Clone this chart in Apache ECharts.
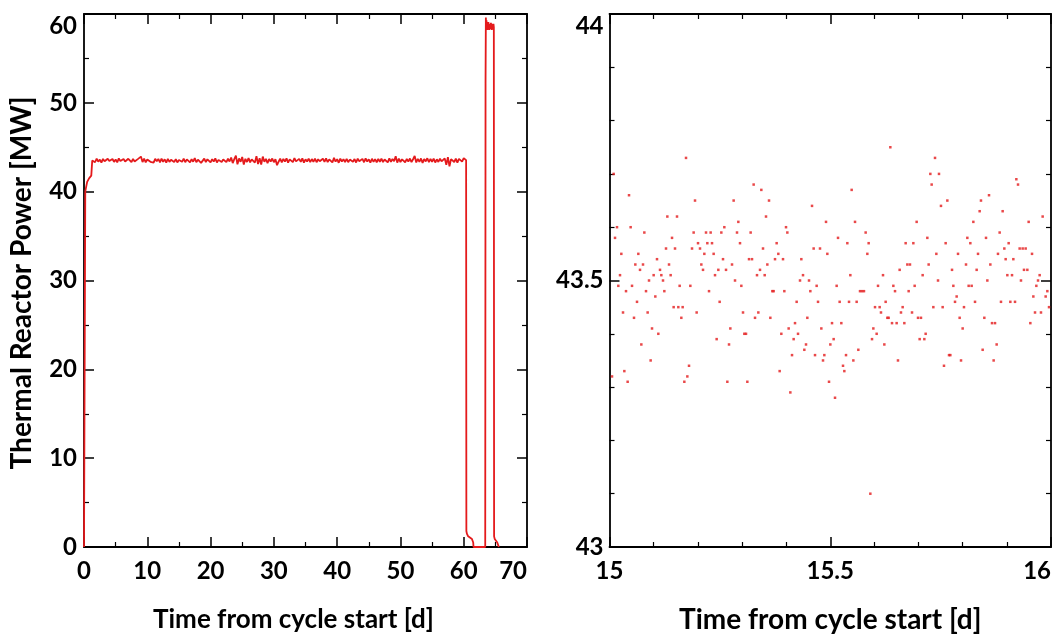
<!DOCTYPE html>
<html><head><meta charset="utf-8">
<script src="https://cdn.jsdelivr.net/npm/echarts@6/dist/echarts.min.js"></script>
<style>html,body{margin:0;padding:0;background:#fff}#c{width:1058px;height:635px}</style>
</head><body><div id="c"></div>
<script>
// ---------- DATA ----------
// Left panel: full cycle (time [d], power [MW])
const leftStart = [[0,0],[0.15,0],[0.2,40.0],[0.3,40.4],[0.5,41.1],[0.8,41.5],[1.15,41.8],[1.3,43.5]];
const plateauT0 = 1.5, plateauDt = 0.25;   // sampling of the steady-power plateau
const plateauP = [
43.66,43.31,43.72,43.38,43.61,43.27,43.69,43.42,43.34,43.71,43.46,43.26,43.68,43.35,43.63,43.30,43.74,43.44,43.33,43.67,
43.40,43.28,43.70,43.57,43.32,43.69,43.39,43.25,43.66,43.45,43.95,43.34,43.71,43.29,43.62,43.73,43.36,43.58,43.27,43.70,
43.43,43.68,43.30,43.72,43.37,43.64,43.26,43.69,43.35,43.60,43.75,43.33,43.67,43.29,43.56,43.70,43.36,43.73,43.31,43.63,
43.69,43.29,43.65,43.38,43.77,43.31,43.60,43.68,43.24,43.42,43.72,43.34,43.64,43.82,43.30,43.66,43.39,43.74,43.28,43.58,
43.70,43.33,43.62,43.78,43.32,43.71,43.40,43.85,43.22,43.66,44.05,43.08,43.74,43.36,43.90,43.05,43.70,43.34,43.78,43.30,
43.64,43.72,43.27,44.00,43.12,43.76,43.06,43.95,43.36,43.70,43.20,43.67,43.40,43.73,43.31,43.65,42.98,43.37,43.72,43.29,
43.68,43.38,43.75,43.26,43.63,43.70,43.33,43.78,43.41,43.30,43.69,43.35,43.74,43.27,43.64,43.39,43.72,43.32,43.67,43.36,
43.73,43.31,43.65,43.42,43.27,43.71,43.35,43.75,43.33,43.63,43.69,43.29,43.80,43.38,43.66,43.25,43.72,43.40,43.64,43.34,
43.70,43.32,43.61,43.76,43.36,43.67,43.28,43.72,43.43,43.34,43.69,43.31,43.74,43.39,43.64,43.26,43.71,43.35,43.66,43.30,
43.68,43.37,43.73,43.33,43.62,43.70,43.29,43.75,43.36,43.67,43.42,43.98,43.27,43.71,43.34,43.64,43.78,43.31,43.69,43.38,
43.73,43.33,43.65,44.02,43.29,43.70,43.36,43.74,43.24,43.67,43.41,43.76,43.32,43.69,43.37,43.72,43.28,43.64,43.35,43.71,
43.42,43.31,43.75,43.02,43.88,42.85,43.66,43.80,43.34,43.72,43.27,43.69,43.74,43.38,43.78,43.62
];
const leftEnd = [[60.38,43.55],[60.42,1.8],[60.5,1.5],[60.7,1.2],[61.0,1.0],[61.3,0.9],[61.5,0.5],[61.55,0],
[63.4,0],[63.45,52.2],[63.5,59.6],[63.55,58.4],[63.6,59.3],[63.65,58.3],[63.7,59.0],[63.75,58.2],[63.8,58.9],
[63.85,58.3],[63.9,59.1],[63.95,58.4],[64.0,58.8],[64.05,58.2],[64.1,58.9],[64.15,58.3],[64.2,58.9],[64.25,58.4],
[64.3,59.0],[64.35,58.3],[64.4,58.8],[64.45,58.2],[64.5,58.9],[64.55,58.4],[64.6,58.8],[64.65,58.3],[64.7,58.9],
[64.76,58.5],[64.8,1.2],[64.9,0.9],[65.1,0.7],[65.3,0.5],[65.5,0.3],[65.55,0]];

// Right panel: day 15 to 16 detail (time [d], power [MW])
const zoomPoints = [
[15.1733,43.73],[15.0094,43.70],[15.0442,43.66],[15.1937,43.65],[15.1310,43.62],[15.1529,43.62],[15.0170,43.60],[15.0479,43.60],
[15.0789,43.59],[15.1906,43.59],[15.2186,43.59],[15.2291,43.59],[15.0125,43.58],[15.1416,43.58],[15.2005,43.57],[15.2216,43.57],
[15.2322,43.57],[15.1280,43.56],[15.1484,43.56],[15.1869,43.56],[15.2050,43.56],[15.0268,43.55],[15.0653,43.55],[15.2148,43.55],
[15.2359,43.55],[15.1076,43.54],[15.0585,43.53],[15.0759,43.53],[15.1348,43.53],[15.2080,43.53],[15.0691,43.52],[15.1144,43.52],
[15.2118,43.52],[15.2465,43.52],[15.0238,43.51],[15.1000,43.51],[15.1174,43.51],[15.1385,43.51],[15.2390,43.51],[15.0895,43.50],
[15.1212,43.50],[15.0200,43.49],[15.0510,43.49],[15.1589,43.49],[15.1831,43.49],[15.0374,43.48],[15.0827,43.48],[15.1242,43.48],
[15.2254,43.48],[15.1038,43.47],[15.0623,43.46],[15.2495,43.46],[15.1453,43.45],[15.1559,43.45],[15.1657,43.45],[15.0306,43.44],
[15.0864,43.44],[15.1974,43.44],[15.0555,43.43],[15.1627,43.43],[15.0963,43.41],[15.1106,43.40],[15.2427,43.39],[15.0721,43.38],
[15.0932,43.35],[15.1801,43.34],[15.0336,43.33],[15.0057,43.32],[15.1763,43.32],[15.0411,43.31],[15.1695,43.31],
[15.3265,43.68],[15.3439,43.67],[15.2812,43.65],[15.3613,43.65],[15.4587,43.64],[15.3545,43.62],[15.2918,43.61],[15.4904,43.61],
[15.2601,43.60],[15.3998,43.60],[15.2533,43.59],[15.2888,43.59],[15.3197,43.59],[15.4028,43.59],[15.2956,43.57],[15.3786,43.57],
[15.3477,43.56],[15.4624,43.56],[15.4768,43.56],[15.3824,43.55],[15.4934,43.55],[15.2571,43.54],[15.3160,43.54],[15.3228,43.54],
[15.3749,43.54],[15.3930,43.54],[15.4345,43.54],[15.2775,43.53],[15.3575,43.53],[15.2639,43.52],[15.3409,43.52],[15.3341,43.51],
[15.3515,43.51],[15.4383,43.51],[15.2843,43.50],[15.4315,43.50],[15.4519,43.50],[15.2986,43.49],[15.4692,43.49],[15.3688,43.48],
[15.3718,43.48],[15.3960,43.48],[15.4549,43.48],[15.4239,43.46],[15.4723,43.46],[15.3024,43.44],[15.3371,43.44],[15.3296,43.43],
[15.3643,43.43],[15.4481,43.43],[15.4202,43.42],[15.2737,43.41],[15.4058,43.41],[15.4798,43.41],[15.3054,43.40],[15.3092,43.40],
[15.3892,43.40],[15.4270,43.40],[15.4171,43.39],[15.2707,43.38],[15.4451,43.38],[15.4413,43.37],[15.4134,43.36],[15.4655,43.36],
[15.4866,43.36],[15.4836,43.35],[15.3854,43.33],[15.2669,43.31],[15.3122,43.31],[15.4972,43.31],[15.4096,43.29],
[15.6361,43.75],[15.7373,43.73],[15.7267,43.70],[15.7463,43.70],[15.7297,43.68],[15.5485,43.67],[15.5561,43.61],[15.6957,43.61],
[15.5802,43.59],[15.5176,43.58],[15.7199,43.58],[15.5387,43.57],[15.5870,43.57],[15.6708,43.57],[15.6882,43.57],[15.5840,43.55],
[15.7403,43.55],[15.6746,43.53],[15.6806,43.53],[15.7229,43.53],[15.6572,43.52],[15.5455,43.51],[15.6195,43.51],[15.7093,43.51],
[15.7441,43.50],[15.5145,43.49],[15.6082,43.49],[15.6429,43.49],[15.6912,43.49],[15.5674,43.48],[15.5719,43.48],[15.5764,43.48],
[15.6467,43.48],[15.6776,43.48],[15.5213,43.46],[15.5425,43.46],[15.5598,43.46],[15.6255,43.46],[15.6014,43.45],[15.6119,43.45],
[15.6640,43.45],[15.7335,43.45],[15.6149,43.44],[15.6602,43.44],[15.6852,43.44],[15.6293,43.43],[15.6323,43.43],[15.6988,43.43],
[15.7055,43.43],[15.5040,43.42],[15.5251,43.42],[15.6399,43.42],[15.6504,43.42],[15.6678,43.42],[15.5976,43.41],[15.6051,43.40],
[15.7161,43.40],[15.5077,43.39],[15.5946,43.39],[15.7025,43.39],[15.7131,43.39],[15.5002,43.38],[15.6225,43.38],[15.5636,43.37],
[15.5357,43.36],[15.5523,43.35],[15.6534,43.35],[15.5289,43.34],[15.5319,43.33],[15.5108,43.28],[15.5908,43.10],
[15.9215,43.69],[15.9253,43.68],[15.8596,43.66],[15.7652,43.65],[15.8414,43.65],[15.7508,43.64],[15.8384,43.63],[15.8905,43.63],
[15.9811,43.62],[15.8241,43.61],[15.9494,43.61],[15.8837,43.59],[15.8105,43.58],[15.8528,43.58],[15.7614,43.57],[15.8173,43.57],
[15.9041,43.57],[15.8943,43.56],[15.9290,43.56],[15.9358,43.56],[15.9426,43.56],[15.7894,43.55],[15.8347,43.55],[15.8799,43.55],
[15.9570,43.55],[15.8973,43.54],[15.9147,43.54],[15.8075,43.53],[15.8626,43.53],[15.7758,43.52],[15.8316,43.52],[15.9388,43.52],
[15.9464,43.52],[15.9011,43.51],[15.9117,43.51],[15.9743,43.51],[15.8558,43.50],[15.9320,43.50],[15.9706,43.50],[15.7788,43.49],
[15.8135,43.49],[15.8203,43.49],[15.9668,43.49],[15.9917,43.48],[15.7863,43.47],[15.9600,43.47],[15.9879,43.47],[15.7826,43.46],
[15.8279,43.46],[15.8867,43.46],[15.9079,43.46],[15.9185,43.46],[15.7546,43.45],[15.8029,43.45],[15.9955,43.45],[15.9638,43.44],
[15.9773,43.44],[15.7931,43.43],[15.8490,43.43],[15.8664,43.42],[15.8732,43.42],[15.9532,43.42],[15.7999,43.41],[15.8769,43.38],
[15.8452,43.37],[15.7690,43.36],[15.7720,43.36],[15.7962,43.35],[15.8701,43.35],[15.7576,43.34]
];

// Axis ranges / ticks
const leftX = {min:0, max:70, step:10};
const leftY = {min:0, max:60, step:10};
const rightX = {min:15, max:16, step:0.5};
const rightY = {min:43, max:44, step:0.5};
const xTitle = 'Time from cycle start [d]';
const yTitle = 'Thermal Reactor Power [MW]';

// ---------- BUILD ----------
const leftData = leftStart.concat(plateauP.map((p,i)=>[plateauT0 + i*plateauDt, p]), leftEnd);

const RED = '#e41a1c';
const FONT = 'Lato';
const LBL = 24, TTL = 26, TTL2 = 28, TTLY = 28;

function baseAxis(o){
  return Object.assign({
    type:'value', splitLine:{show:false},
    axisLine:{show:true, onZero:false, lineStyle:{color:'#000', width:1.8}},
    axisTick:{show:true, inside:true, length:10, lineStyle:{color:'#000', width:1.5}},
    minorTick:{show:true, splitNumber:2, length:5, lineStyle:{color:'#000', width:1.2}},
    axisLabel:{show:false},
  }, o);
}
function lbl(extra){
  return Object.assign({show:true, color:'#000', fontFamily:FONT, fontWeight:'bold', fontSize:LBL}, extra);
}
function nameStyle(size, extra){
  return Object.assign({color:'#000', fontFamily:FONT, fontWeight:'bold', fontSize:size}, extra||{});
}
const topRich = {t:{padding:[24,0,0,0], color:'#000', fontFamily:FONT, fontWeight:'bold', fontSize:LBL}};
const minor5 = {show:true, splitNumber:5, length:5, lineStyle:{color:'#000', width:1.2}};

const option = {
  animation:false,
  backgroundColor:'#fff',
  grid:[
    {left:84, top:14, width:443, height:533, outerBoundsMode:'none', containLabel:false},
    {left:609.5, top:14, width:441.5, height:533, outerBoundsMode:'none', containLabel:false}
  ],
  xAxis:[
    baseAxis({gridIndex:0, position:'bottom', min:leftX.min, max:leftX.max, interval:leftX.step,
      axisLabel:lbl({margin:12, alignMaxLabel:'right'}),
      name:xTitle, nameLocation:'middle', nameGap:60,
      nameTextStyle:nameStyle(TTL, {padding:[0,24,0,0]})}),
    baseAxis({gridIndex:0, position:'top', min:leftX.min, max:leftX.max, interval:leftX.step}),
    baseAxis({gridIndex:1, position:'bottom', min:rightX.min, max:rightX.max, interval:rightX.step,
      minorTick:minor5,
      axisLabel:lbl({margin:12, alignMaxLabel:'right', formatter:v=>String(+v.toFixed(1))}),
      name:xTitle, nameLocation:'middle', nameGap:59, nameTextStyle:nameStyle(TTL2)}),
    baseAxis({gridIndex:1, position:'top', min:rightX.min, max:rightX.max, interval:rightX.step, minorTick:minor5})
  ],
  yAxis:[
    baseAxis({gridIndex:0, position:'left', min:leftY.min, max:leftY.max, interval:leftY.step,
      axisLabel:lbl({margin:7, formatter:v=> v===leftY.max ? '{t|'+v+'}' : String(v), rich:topRich}),
      name:yTitle, nameLocation:'middle', nameGap:48, nameRotate:90,
      nameTextStyle:nameStyle(TTLY, {padding:[0,5,0,0]})}),
    baseAxis({gridIndex:0, position:'right', min:leftY.min, max:leftY.max, interval:leftY.step}),
    baseAxis({gridIndex:1, position:'left', min:rightY.min, max:rightY.max, interval:rightY.step,
      minorTick:minor5,
      axisLabel:lbl({margin:6, formatter:v=>{const s=String(+v.toFixed(1)); return v===rightY.max ? '{t|'+s+'}' : s;}, rich:topRich})}),
    baseAxis({gridIndex:1, position:'right', min:rightY.min, max:rightY.max, interval:rightY.step, minorTick:minor5})
  ],
  series:[
    {type:'line', xAxisIndex:0, yAxisIndex:0, data:leftData, showSymbol:false, symbol:'none',
      lineStyle:{color:RED, width:1.8}, clip:true},
    {type:'scatter', xAxisIndex:2, yAxisIndex:2, data:zoomPoints, symbol:'rect', symbolSize:2.5,
      itemStyle:{color:RED}, clip:true}
  ]
};
const chart = echarts.init(document.getElementById('c'), null, {renderer:'canvas'});
chart.setOption(option);
</script>
</body></html>
